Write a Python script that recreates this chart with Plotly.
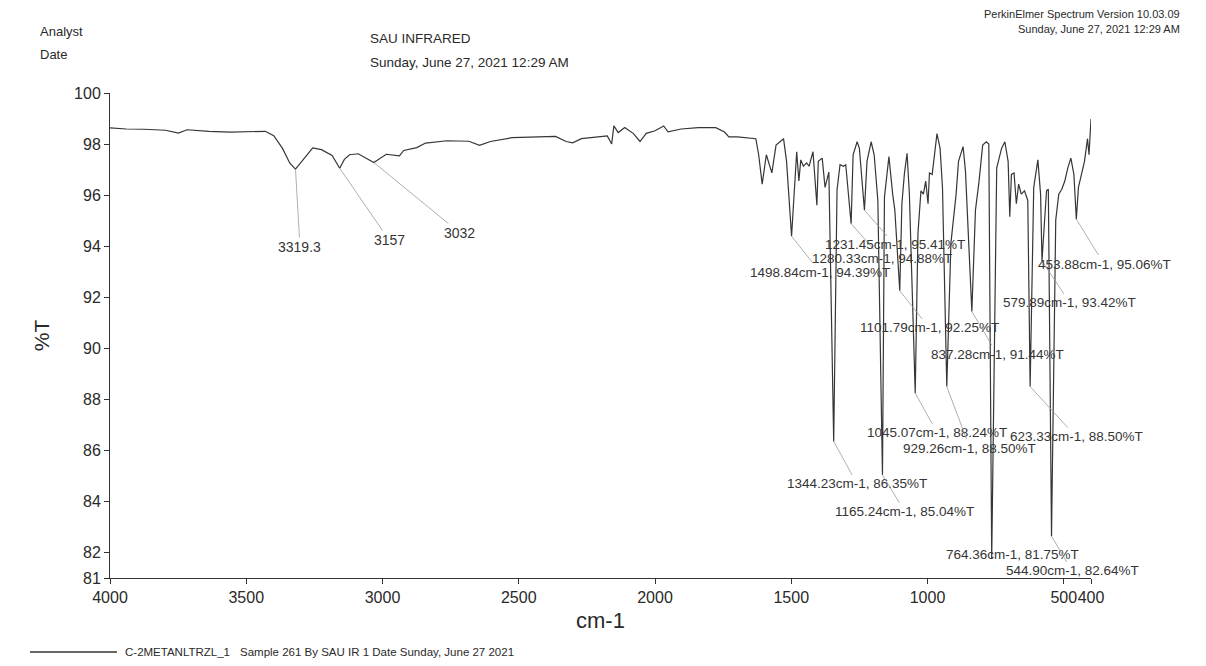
import plotly.graph_objects as go

# ---------------- data ----------------
wn_high = [4000, 3940, 3876, 3796, 3749, 3717, 3637, 3558, 3430, 3399, 3367, 3340,
           3319.3, 3295, 3256, 3224, 3185, 3157, 3140, 3121, 3089, 3032, 2986, 2938,
           2922, 2874, 2842, 2763, 2683, 2644, 2604, 2524, 2365, 2326, 2302, 2270,
           2175, 2159, 2151, 2135, 2111, 2079, 2055, 2032, 2000, 1968, 1952, 1904,
           1841, 1777, 1745, 1729]
t_high = [98.63, 98.59, 98.58, 98.54, 98.43, 98.56, 98.50, 98.47, 98.50, 98.33, 97.83, 97.25,
          97.02, 97.35, 97.85, 97.78, 97.55, 97.05, 97.40, 97.58, 97.62, 97.28, 97.60, 97.54,
          97.75, 97.86, 98.04, 98.13, 98.11, 97.95, 98.10, 98.25, 98.30, 98.10, 98.05, 98.21,
          98.32, 98.00, 98.71, 98.45, 98.65, 98.41, 98.10, 98.42, 98.52, 98.71, 98.48, 98.59,
          98.64, 98.64, 98.47, 98.28]

wn_fingerprint = [1697.5, 1630, 1619.6, 1606.7, 1591.4, 1571.2, 1555.8, 1528.3, 1517.2, 1498.84,
                  1488, 1480, 1472, 1465, 1455.5, 1443.5, 1434.6, 1420.2, 1405.9, 1400.8,
                  1386.4, 1376, 1362, 1344.23, 1332, 1321, 1308.4, 1300, 1280.33, 1273,
                  1258.3, 1250, 1231.45, 1222, 1206.9, 1195.7, 1182.2, 1165.24, 1158, 1141.6,
                  1127.8, 1119.9, 1101.79, 1094, 1085, 1075, 1066.5, 1045.07, 1035, 1024,
                  1015, 1006.6, 998, 992.8, 982.8, 965.2, 953.8, 945, 929.26, 914,
                  895, 886.2, 869.4, 860.7, 837.28, 824, 810.8, 797.5, 784.3, 775,
                  764.36, 746, 728.2, 716.2, 704.1, 698.1, 692, 682.4, 674, 665.5,
                  656, 644, 632, 623.33, 610.2, 595, 585, 579.89, 563.2, 556.6,
                  544.90, 529.4, 518.3, 507.2, 496.1, 485, 473.9, 462.8, 453.88, 446.1,
                  435, 423.9, 412.8, 407.3, 400]
t_fingerprint = [98.28, 98.21, 97.58, 96.43, 97.58, 96.87, 97.96, 98.21, 97.32, 94.39,
                 96.43, 97.70, 96.55, 97.38, 97.13, 97.26, 97.13, 97.70, 95.60, 97.32,
                 97.45, 96.30, 96.90, 86.35, 96.20, 97.19, 97.13, 97.19, 94.88, 97.58,
                 98.09, 97.83, 95.41, 97.32, 98.09, 97.58, 95.79, 85.04, 95.92, 97.51,
                 96.04, 95.41, 92.25, 95.66, 96.81, 97.64, 96.04, 88.24, 94.51, 96.17,
                 96.04, 96.55, 95.66, 96.87, 96.81, 98.41, 97.83, 96.30, 88.50, 94.13,
                 96.04, 97.32, 97.90, 96.94, 91.44, 95.41, 96.55, 97.96, 98.09, 98.00,
                 81.75, 97.07, 97.83, 98.09, 97.32, 95.15, 96.81, 96.87, 95.66, 96.43,
                 96.04, 96.17, 95.79, 88.50, 96.30, 97.38, 96.04, 93.42, 96.17, 96.23,
                 82.64, 95.02, 96.04, 96.23, 96.55, 97.07, 97.45, 96.81, 95.06, 96.30,
                 96.81, 97.32, 98.21, 97.58, 98.98]

peak_wn = [3319.3, 3157, 3032, 1498.84, 1344.23, 1280.33, 1231.45, 1165.24, 1101.79,
           1045.07, 929.26, 837.28, 764.36, 623.33, 579.89, 544.90, 453.88]
peak_t = [97.02, 97.05, 97.28, 94.39, 86.35, 94.88, 95.41, 85.04, 92.25,
          88.24, 88.50, 91.44, 81.75, 88.50, 93.42, 82.64, 95.06]
peak_text = ["3319.3", "3157", "3032"] + [
    f"{w:.2f}cm-1, {t:.2f}%T" for w, t in zip(peak_wn[3:], peak_t[3:])]

x_ticks = [4000, 3500, 3000, 2500, 2000, 1500, 1000, 500, 400]
y_ticks = [81, 82, 84, 86, 88, 90, 92, 94, 96, 98, 100]

sample_name = "C-2METANLTRZL_1"
sample_info = "Sample 261 By SAU IR 1 Date Sunday, June 27 2021"

# ---------------- layout helpers (pixel offsets of peak labels) ----------------
label_dx = [4.5, 49.3, 86.2, 28.4, 23.3, 30.6, 30.6, 22.5, 29.7, 22, 23.2, 25.2, 20.3, 46, 28, 20.5, 27.7]
label_dy = [77.9, 71.7, 70.6, 35.8, 42.5, 34.6, 34.8, 37.1, 37.1, 39.5, 61.7, 42.5, -3.9, 50.1, 42, 34.8, 44.9]
label_size = [14, 14, 14] + [13.5] * 14

FONT = "Liberation Sans, Arial, Helvetica, sans-serif"
INK = "#2a2a2a"

fig = go.Figure()
fig.add_trace(go.Scatter(
    x=wn_high + wn_fingerprint, y=t_high + t_fingerprint,
    mode="lines", name=sample_name,
    line=dict(color="#363636", width=1.2),
    showlegend=False,
))

annotations = []
for w, t, txt, dx, dy, fs in zip(peak_wn, peak_t, peak_text, label_dx, label_dy, label_size):
    annotations.append(dict(
        x=w, y=t, xref="x", yref="y", text=txt,
        showarrow=True, arrowhead=0, arrowwidth=0.8, arrowcolor="#9a9a9a",
        ax=dx, ay=dy, font=dict(family=FONT, size=fs, color="#353535"),
    ))

def ptext(text, x, y, size, xanchor="left", color=INK):
    annotations.append(dict(text=text, x=x, y=y, xref="paper", yref="paper",
                            showarrow=False, xanchor=xanchor, yanchor="middle",
                            font=dict(family=FONT, size=size, color=color)))

ptext("Analyst", -0.0734, 1.126, 13)
ptext("Date", -0.0734, 1.080, 13)
ptext("SAU INFRARED", 0.263, 1.1134, 13.5)
ptext("Sunday, June 27, 2021 12:29 AM", 0.263, 1.0639, 13.5)
ptext("PerkinElmer Spectrum Version 10.03.09", 1.0928, 1.163, 11, xanchor="right")
ptext("Sunday, June 27, 2021 12:29 AM", 1.0928, 1.131, 11, xanchor="right")
ptext(sample_name, 0.0133, -0.1526, 11.5)
ptext(sample_info, 0.1305, -0.1526, 11.5)

# the page body has an 8px margin, so the figure is 8px smaller and margins shifted
fig.update_layout(
    width=1198, height=658,
    margin=dict(l=102, r=115, t=85, b=88),
    paper_bgcolor="white", plot_bgcolor="white",
    font=dict(family=FONT, color=INK),
    annotations=annotations,
    shapes=[dict(type="line", xref="paper", yref="paper",
                 x0=-0.0815, x1=0.0071, y0=-0.1526, y1=-0.1526,
                 line=dict(color="#333333", width=1.5))],
)
fig.update_xaxes(
    range=[4000, 400], tickvals=x_ticks, ticktext=[str(v) for v in x_ticks],
    tickangle=0,
    showline=True, linecolor="#333333", linewidth=1, mirror=False,
    ticks="outside", ticklen=5, tickcolor="#333333", showgrid=False, zeroline=False,
    tickfont=dict(family=FONT, size=16, color=INK),
    title=dict(text="cm-1", font=dict(family=FONT, size=22, color=INK), standoff=7),
)
fig.update_yaxes(
    range=[81, 100], tickvals=y_ticks, ticktext=[str(v) for v in y_ticks],
    showline=True, linecolor="#333333", linewidth=1, mirror=False,
    ticks="outside", ticklen=5, tickcolor="#333333", showgrid=False, zeroline=False,
    tickfont=dict(family=FONT, size=16, color=INK),
    title=dict(text="%T", font=dict(family=FONT, size=21, color=INK), standoff=18),
)

fig.write_html("out.html")
